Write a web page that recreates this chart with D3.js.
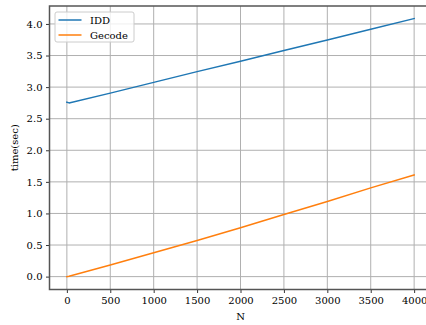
<!DOCTYPE html>
<html>
<head>
<meta charset="utf-8">
<script src="https://cdn.jsdelivr.net/npm/d3@7"></script>
<style>
  body { margin: 0; background: #fff; }
  svg text { font-family: "DejaVu Serif", serif; font-size: 10px; fill: #000; }
</style>
</head>
<body>
<svg id="chart" width="426" height="325"></svg>
<script>
// values
const nValues = [0, 25, 500, 1000, 1500, 2000, 2500, 3000, 3500, 4000];
const iddTimes = [2.76, 2.75, 2.905, 3.075, 3.245, 3.41, 3.58, 3.745, 3.915, 4.085];
const gecodeTimes = [0.0, 0.006, 0.183, 0.379, 0.573, 0.774, 0.984, 1.19, 1.405, 1.61];
const seriesNames = ["IDD", "Gecode"];
const seriesColors = ["#1f77b4", "#ff7f0e"];
const xTicks = [0, 500, 1000, 1500, 2000, 2500, 3000, 3500, 4000];
const yTicks = [0.0, 0.5, 1.0, 1.5, 2.0, 2.5, 3.0, 3.5, 4.0];

const svg = d3.select("#chart");

// plot area (right edge runs past the picture, like the original)
const plotLeft = 49.5, plotRight = 431.5, plotTop = 6, plotBottom = 289.5;

const x = d3.scaleLinear().domain([-200, 4200]).range([plotLeft, plotRight]);
const y = d3.scaleLinear().domain([-0.204, 4.284]).range([plotBottom, plotTop]);

// grid
const grid = svg.append("g");
grid.selectAll(".gx").data(xTicks).enter().append("line")
  .attr("x1", d => x(d)).attr("x2", d => x(d))
  .attr("y1", plotTop).attr("y2", plotBottom)
  .style("stroke", "#b0b0b0").style("stroke-width", 1);
grid.selectAll(".gy").data(yTicks).enter().append("line")
  .attr("x1", plotLeft).attr("x2", plotRight)
  .attr("y1", d => y(d)).attr("y2", d => y(d))
  .style("stroke", "#b0b0b0").style("stroke-width", 1);

// series lines
const series = [iddTimes, gecodeTimes];
const line = d3.line().x((d, i) => x(nValues[i])).y(d => y(d));
series.forEach((vals, k) => {
  svg.append("path")
    .datum(vals)
    .attr("d", line)
    .style("fill", "none")
    .style("stroke", seriesColors[k])
    .style("stroke-width", 1.5)
    .style("stroke-linejoin", "round")
    .style("stroke-linecap", "square");
});

// axes
const xAxis = d3.axisBottom(x).tickValues(xTicks).tickSize(3.5).tickPadding(3.5).tickFormat(d3.format("d"));
const yAxis = d3.axisLeft(y).tickValues(yTicks).tickSize(3.5).tickPadding(3.5).tickFormat(d3.format(".1f"));

const gx = svg.append("g").attr("transform", `translate(0,${plotBottom})`).call(xAxis);
const gy = svg.append("g").attr("transform", `translate(${plotLeft},0)`).call(yAxis);
[gx, gy].forEach(g => {
  g.select(".domain").remove();
  g.selectAll(".tick line").style("stroke", "#000").style("stroke-width", 0.8);
  g.selectAll(".tick text").style("font-family", "DejaVu Serif").style("font-size", "10px");
});

// spines
svg.append("rect")
  .attr("x", plotLeft).attr("y", plotTop)
  .attr("width", plotRight - plotLeft).attr("height", plotBottom - plotTop)
  .style("fill", "none").style("stroke", "#555").style("stroke-width", 1.5);

// axis labels
svg.append("text")
  .attr("x", (plotLeft + plotRight) / 2).attr("y", 320)
  .attr("text-anchor", "middle")
  .text("N");
svg.append("text")
  .attr("transform", `translate(18,${(plotTop + plotBottom) / 2}) rotate(-90)`)
  .attr("text-anchor", "middle")
  .text("time(sec)");

// legend
const legend = svg.append("g").attr("transform", "translate(55,12)");
legend.append("rect")
  .attr("width", 79).attr("height", 30).attr("rx", 2)
  .style("fill", "#fff").style("fill-opacity", 0.8)
  .style("stroke", "#ccc").style("stroke-width", 1);
seriesNames.forEach((name, k) => {
  const ly = 8 + k * 15;
  legend.append("line")
    .attr("x1", 3.5).attr("x2", 26.5)
    .attr("y1", ly).attr("y2", ly)
    .style("stroke", seriesColors[k]).style("stroke-width", 1.5);
  legend.append("text")
    .attr("x", 35).attr("y", ly)
    .attr("dy", "0.35em")
    .text(name);
});
</script>
</body>
</html>
